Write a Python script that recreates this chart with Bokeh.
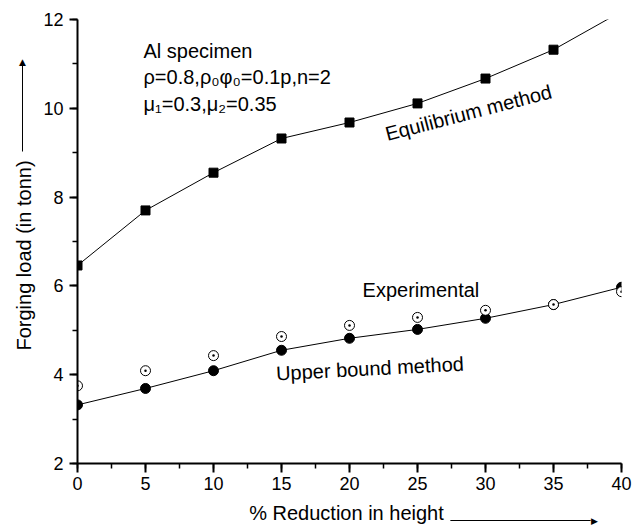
from bokeh.plotting import figure
from bokeh.models import Range1d, Label, SingleIntervalTicker
from bokeh.embed import file_html
from bokeh.resources import INLINE
import math

# data
reduction = [0, 5, 10, 15, 20, 25, 30, 35, 40]
equilibrium = [6.46, 7.70, 8.55, 9.32, 9.68, 10.11, 10.67, 11.32, 12.18]
upper_bound = [3.32, 3.69, 4.09, 4.55, 4.82, 5.02, 5.27, 5.58, 5.97]
experimental = [3.75, 4.09, 4.43, 4.86, 5.11, 5.29, 5.45, 5.58, 5.87]

FONT = "Liberation Sans"

p = figure(width=637, height=526, x_range=Range1d(0, 40), y_range=Range1d(2, 12),
           output_backend="svg", toolbar_location=None,
           min_border_left=77, min_border_right=16, min_border_top=19, min_border_bottom=63)
p.xgrid.visible = False
p.ygrid.visible = False
p.outline_line_color = None
p.background_fill_color = "white"
p.border_fill_color = "white"

p.xaxis.ticker = SingleIntervalTicker(interval=5, num_minor_ticks=2)
p.yaxis.ticker = SingleIntervalTicker(interval=2, num_minor_ticks=2)
for ax in (p.xaxis, p.yaxis):
    ax.axis_line_width = 2
    ax.axis_line_color = "black"
    ax.major_tick_line_width = 2
    ax.major_tick_line_color = "black"
    ax.minor_tick_line_width = 1.5
    ax.minor_tick_line_color = "black"
    ax.major_tick_in = 0
    ax.minor_tick_in = 0
    ax.major_label_text_font = FONT
    ax.major_label_text_font_size = "18px"
    ax.major_label_text_color = "black"
p.xaxis.major_tick_out = 9
p.xaxis.minor_tick_out = 5
p.yaxis.major_tick_out = 8
p.yaxis.minor_tick_out = 5
p.xaxis.major_label_standoff = 4
p.yaxis.major_label_standoff = 6

# equilibrium
p.line(reduction, equilibrium, line_color="black", line_width=1)
p.scatter(reduction, equilibrium, marker="square", size=9, fill_color="black", line_color="black")

# upper bound
p.line(reduction, upper_bound, line_color="black", line_width=1)
p.scatter(reduction, upper_bound, marker="circle", size=10, fill_color="black", line_color="black")

# experimental
p.scatter(reduction, experimental, marker="circle_dot", size=10, fill_color="white",
          line_color="black", line_width=1)

def lab(x, y, t, align="left", baseline="alphabetic", angle=0.0, size="20px", units="data",
        place=None, font=FONT, **kw):
    l = Label(x=x, y=y, text=t, text_font=font, text_font_size=size,
              text_align=align, text_baseline=baseline, angle=angle,
              text_color="black", x_units=units, y_units=units, **kw)
    if place:
        p.add_layout(l, place)
    else:
        p.add_layout(l)

lab(4.85, 11.30, "Al specimen")
lab(4.85, 10.70, "ρ=0.8,ρ₀φ₀=0.1p,n=2")
lab(4.85, 10.10, "μ₁=0.3,μ₂=0.35")
lab(28.75, 9.9, "Equilibrium method", align="center", baseline="middle", angle=math.radians(14.6))
lab(20.96, 5.90, "Experimental")
lab(21.5, 4.14, "Upper bound method", align="center", baseline="middle", angle=math.radians(3))

# axis titles (canvas pixel units, in side panels so they are not clipped)
lab(23, 255, "Forging load (in tonn)", align="center", baseline="middle", angle=math.pi / 2,
    units="canvas", place="left")
lab(346, 512, "% Reduction in height", align="center", baseline="middle", units="canvas", place="below")

# arrow shafts drawn as thin filled label boxes, heads as triangle glyphs
lab(520, 520, " ", align="center", baseline="middle", size="1px", units="canvas", place="below",
    background_fill_color="black", padding=dict(left=70, right=70, top=0, bottom=0))
lab(594, 520, "▶", align="center", baseline="middle", size="9px", units="canvas", place="below",
    font="DejaVu Sans")
lab(22, 108, " ", align="center", baseline="middle", size="3.6px", units="canvas", place="left",
    background_fill_color="black", padding=dict(left=0, right=0, top=41, bottom=41))
lab(22, 61, "▲", align="center", baseline="middle", size="9px", units="canvas", place="left",
    font="DejaVu Sans")

open("out.html", "w").write(file_html(p, INLINE))
